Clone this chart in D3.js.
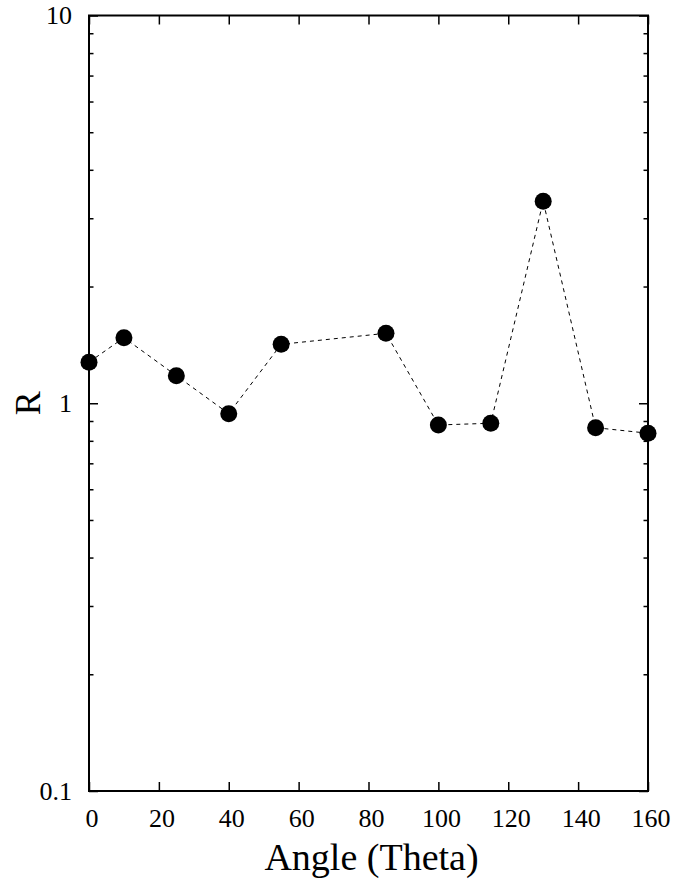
<!DOCTYPE html>
<html>
<head>
<meta charset="utf-8">
<script src="https://cdn.jsdelivr.net/npm/d3@7.9.0/dist/d3.min.js"></script>
<style>
  body { margin: 0; background: #fff; }
  svg text { font-family: "Liberation Serif", "Times New Roman", serif; fill: #000; }
</style>
</head>
<body>
<svg id="chart" width="689" height="879"></svg>
<script>
const angles = [0, 10, 25, 40, 55, 85, 100, 115, 130, 145, 160];
const rValues = [1.276, 1.476, 1.178, 0.940, 1.419, 1.515, 0.879, 0.888, 3.32, 0.865, 0.837];
const xTicks = [0, 20, 40, 60, 80, 100, 120, 140, 160];
const yTicks = [0.1, 1, 10];
const yTickLabels = ['0.1', '1', '10'];

const margin = { top: 15.5, right: 41, bottom: 88, left: 89 };
const width = 689 - margin.left - margin.right;
const height = 879 - margin.top - margin.bottom;

const svg = d3.select('#chart');
const g = svg.append('g').attr('transform', `translate(${margin.left},${margin.top})`);

const x = d3.scaleLinear().domain([0, 160]).range([0, width]);
const y = d3.scaleLog().domain([0.1, 10]).range([height, 0]);

const minorY = [];
[0.1, 1].forEach(d => { for (let k = 2; k <= 9; k++) minorY.push(d * k); });

function styleAxis(sel, fontSize) {
  sel.attr('font-family', null);
  sel.select('.domain').remove();
  sel.selectAll('line').attr('stroke', '#000').attr('stroke-width', 1.5);
  sel.selectAll('text').attr('font-size', fontSize);
}

// bottom and top
g.append('g').attr('transform', `translate(0,${height})`)
  .call(d3.axisBottom(x).tickValues(xTicks).tickFormat(d3.format('d')).tickSizeInner(-9).tickSizeOuter(0).tickPadding(18))
  .call(s => styleAxis(s, 26))
  .call(s => s.selectAll('text').attr('dx', 2.5));
g.append('g')
  .call(d3.axisTop(x).tickValues(xTicks).tickFormat('').tickSizeInner(-9).tickSizeOuter(0))
  .call(s => styleAxis(s, 26));

// left and right major
g.append('g')
  .call(d3.axisLeft(y).tickValues(yTicks).tickFormat((d, i) => yTickLabels[i]).tickSizeInner(-9).tickSizeOuter(0).tickPadding(17))
  .call(s => styleAxis(s, 26));
g.append('g').attr('transform', `translate(${width},0)`)
  .call(d3.axisRight(y).tickValues(yTicks).tickFormat('').tickSizeInner(-9).tickSizeOuter(0))
  .call(s => styleAxis(s, 26));

// minor y ticks
g.append('g')
  .call(d3.axisLeft(y).tickValues(minorY).tickFormat('').tickSizeInner(-4.5).tickSizeOuter(0))
  .call(s => styleAxis(s, 26));
g.append('g').attr('transform', `translate(${width},0)`)
  .call(d3.axisRight(y).tickValues(minorY).tickFormat('').tickSizeInner(-4.5).tickSizeOuter(0))
  .call(s => styleAxis(s, 26));

// frame
g.append('rect')
  .attr('width', width).attr('height', height)
  .attr('fill', 'none').attr('stroke', '#000').attr('stroke-width', 2);

const data = angles.map((a, i) => ({ a, r: rValues[i] }));

g.append('path')
  .datum(data)
  .attr('fill', 'none')
  .attr('stroke', '#000')
  .attr('stroke-width', 1)
  .attr('stroke-dasharray', '4,4')
  .attr('d', d3.line().x(d => x(d.a)).y(d => y(d.r)));

g.selectAll('circle.pt')
  .data(data)
  .enter()
  .append('circle')
  .attr('class', 'pt')
  .attr('cx', d => x(d.a))
  .attr('cy', d => y(d.r))
  .attr('r', 8.5)
  .attr('fill', '#000');

svg.append('text')
  .attr('x', margin.left + width / 2 + 3)
  .attr('y', 870)
  .attr('text-anchor', 'middle')
  .attr('font-size', 38)
  .text('Angle (Theta)');

svg.append('text')
  .attr('transform', `translate(40,${margin.top + y(1)}) rotate(-90)`)
  .attr('text-anchor', 'middle')
  .attr('font-size', 36)
  .text('R');
</script>
</body>
</html>
